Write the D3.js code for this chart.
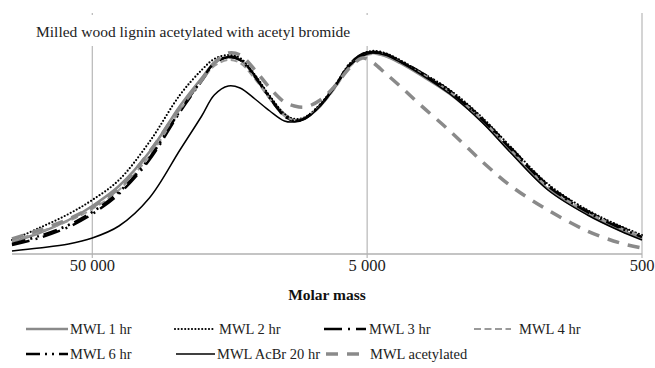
<!DOCTYPE html>
<html>
<head>
<meta charset="utf-8">
<script src="https://cdn.jsdelivr.net/npm/d3@7"></script>
<style>
body { margin: 0; background: #fff; }
text { font-family: "Liberation Serif", "Times New Roman", serif; }
</style>
</head>
<body>
<script>
// molar mass sample points (g/mol), high to low
var molarMass = [98000, 78000, 61000, 50000, 40000, 31000, 24000, 20000, 18000, 16000,
	14500, 12800, 11300, 10000, 9200, 8400, 7400, 6500, 5800, 5200,
	4800, 4300, 3800, 3200, 2500, 1900, 1500, 1100, 790, 600, 500];

var seriesNames = ["MWL 1 hr", "MWL 2 hr", "MWL 3 hr", "MWL 4 hr", "MWL 6 hr", "MWL AcBr 20 hr", "MWL acetylated"];

// normalised detector response
var mwl1 = [0.060, 0.105, 0.170, 0.240, 0.340, 0.510, 0.740, 0.880, 0.955, 0.985, 0.970, 0.890, 0.785, 0.700, 0.670, 0.680, 0.740, 0.840, 0.940, 0.990, 1.005, 0.990, 0.955, 0.895, 0.800, 0.660, 0.510, 0.325, 0.200, 0.120, 0.080];
var mwl2 = [0.070, 0.130, 0.200, 0.270, 0.370, 0.560, 0.795, 0.920, 0.975, 0.995, 0.980, 0.895, 0.790, 0.700, 0.675, 0.685, 0.750, 0.850, 0.950, 1.000, 1.015, 1.005, 0.970, 0.910, 0.820, 0.680, 0.535, 0.350, 0.220, 0.140, 0.095];
var mwl3 = [0.045, 0.080, 0.135, 0.200, 0.300, 0.470, 0.710, 0.865, 0.950, 0.985, 0.975, 0.890, 0.780, 0.690, 0.665, 0.680, 0.745, 0.845, 0.950, 1.000, 1.010, 1.000, 0.965, 0.910, 0.815, 0.675, 0.530, 0.345, 0.215, 0.135, 0.090];
var mwl4 = [0.065, 0.110, 0.165, 0.225, 0.320, 0.490, 0.720, 0.865, 0.940, 0.970, 0.955, 0.875, 0.775, 0.690, 0.670, 0.680, 0.740, 0.835, 0.935, 0.985, 1.000, 0.990, 0.960, 0.905, 0.810, 0.670, 0.520, 0.335, 0.210, 0.130, 0.090];
var mwl6 = [0.050, 0.090, 0.145, 0.210, 0.310, 0.480, 0.715, 0.870, 0.955, 0.985, 0.970, 0.885, 0.780, 0.690, 0.665, 0.680, 0.745, 0.845, 0.945, 0.995, 1.010, 1.000, 0.965, 0.905, 0.810, 0.670, 0.525, 0.340, 0.210, 0.130, 0.085];
var acbr20 = [0.015, 0.030, 0.050, 0.080, 0.140, 0.280, 0.520, 0.690, 0.795, 0.840, 0.830, 0.775, 0.715, 0.665, 0.660, 0.675, 0.740, 0.840, 0.940, 0.990, 1.005, 0.995, 0.960, 0.900, 0.800, 0.655, 0.505, 0.320, 0.195, 0.115, 0.070];
var acetylated = [0.075, 0.120, 0.175, 0.235, 0.330, 0.510, 0.730, 0.870, 0.955, 1.005, 0.995, 0.920, 0.830, 0.760, 0.740, 0.735, 0.770, 0.845, 0.930, 0.980, 0.960, 0.905, 0.840, 0.745, 0.615, 0.460, 0.340, 0.220, 0.115, 0.055, 0.030];

var tickValues = [50000, 5000, 500];
var tickLabels = ["50 000", "5 000", "500"];

var w = 655, h = 368;
var svg = d3.select("body").append("svg")
	.attr("width", w)
	.attr("height", h);

var x = d3.scaleLog().domain([98000, 500]).range([12, 642]);
var y = d3.scaleLinear().domain([0, 1]).range([254, 54]);

// line styles per series
var styles = [
	{stroke: "#8a8a8a", width: 2.5, dash: null},
	{stroke: "#000", width: 2.2, dash: "0 3.4", cap: "round"},
	{stroke: "#000", width: 2.5, dash: "18 6 2 6"},
	{stroke: "#9a9a9a", width: 2, dash: "7 3.5"},
	{stroke: "#000", width: 2.5, dash: "14 5 2 5 2 5"},
	{stroke: "#000", width: 1.5, dash: null},
	{stroke: "#8a8a8a", width: 3.5, dash: "12 9"}
];
var values = [mwl1, mwl2, mwl3, mwl4, mwl6, acbr20, acetylated];

// vertical gridlines
svg.selectAll(".grid")
	.data(tickValues)
	.enter()
	.append("line")
	.attr("class", "grid")
	.attr("x1", function(d){ return x(d); })
	.attr("x2", function(d){ return x(d); })
	.attr("y1", 13)
	.attr("y2", 258)
	.style("stroke", "#bdbdbd")
	.style("stroke-width", 1.3);

// x axis line
svg.append("line")
	.attr("x1", 12).attr("x2", 642)
	.attr("y1", 254).attr("y2", 254)
	.style("stroke", "#b0b0b0")
	.style("stroke-width", 1.3);

// title box sits over the top of the plot
svg.append("rect")
	.attr("x", 28).attr("y", 15)
	.attr("width", 390).attr("height", 31)
	.style("fill", "#fff");

svg.append("text")
	.attr("x", 36)
	.attr("y", 37)
	.style("font-size", "15.5px")
	.style("fill", "#222")
	.text("Milled wood lignin acetylated with acetyl bromide");

var line = d3.line()
	.x(function(d){ return x(d[0]); })
	.y(function(d){ return y(d[1]); })
	.curve(d3.curveCatmullRom);

values.forEach(function(vals, i){
	var s = styles[i];
	svg.append("path")
		.datum(molarMass.map(function(m, j){ return [m, vals[j]]; }))
		.attr("d", line)
		.style("fill", "none")
		.style("stroke", s.stroke)
		.style("stroke-width", s.width)
		.style("stroke-dasharray", s.dash)
		.style("stroke-linecap", s.cap || "butt");
});

// tick labels
svg.selectAll(".tick")
	.data(tickValues)
	.enter()
	.append("text")
	.attr("class", "tick")
	.attr("x", function(d){ return x(d); })
	.attr("y", 271)
	.attr("text-anchor", "middle")
	.style("font-size", "16.5px")
	.style("fill", "#222")
	.text(function(d, i){ return tickLabels[i]; });

svg.append("text")
	.attr("x", 327)
	.attr("y", 300)
	.attr("text-anchor", "middle")
	.style("font-size", "15.5px")
	.style("font-weight", "bold")
	.style("fill", "#111")
	.text("Molar mass");

// legend, 4 per row
var legendPos = [
	{x1: 26, x2: 68, tx: 70, ty: 334},
	{x1: 175, x2: 213, tx: 219, ty: 334},
	{x1: 324, x2: 366, tx: 369, ty: 334},
	{x1: 474, x2: 511, tx: 519, ty: 334},
	{x1: 26, x2: 68, tx: 70, ty: 359},
	{x1: 176, x2: 215, tx: 217, ty: 359},
	{x1: 326, x2: 368, tx: 370, ty: 359}
];

var legend = svg.selectAll(".legend")
	.data(seriesNames)
	.enter()
	.append("g")
	.attr("class", "legend");

legend.append("line")
	.attr("x1", function(d, i){ return legendPos[i].x1; })
	.attr("x2", function(d, i){ return legendPos[i].x2; })
	.attr("y1", function(d, i){ return legendPos[i].ty - 5; })
	.attr("y2", function(d, i){ return legendPos[i].ty - 5; })
	.style("stroke", function(d, i){ return styles[i].stroke; })
	.style("stroke-width", function(d, i){ return styles[i].width; })
	.style("stroke-dasharray", function(d, i){ return styles[i].dash; })
	.style("stroke-linecap", function(d, i){ return styles[i].cap || "butt"; });

legend.append("text")
	.attr("x", function(d, i){ return legendPos[i].tx; })
	.attr("y", function(d, i){ return legendPos[i].ty; })
	.style("font-size", "14.5px")
	.style("fill", "#222")
	.text(function(d){ return d; });
</script>
</body>
</html>
